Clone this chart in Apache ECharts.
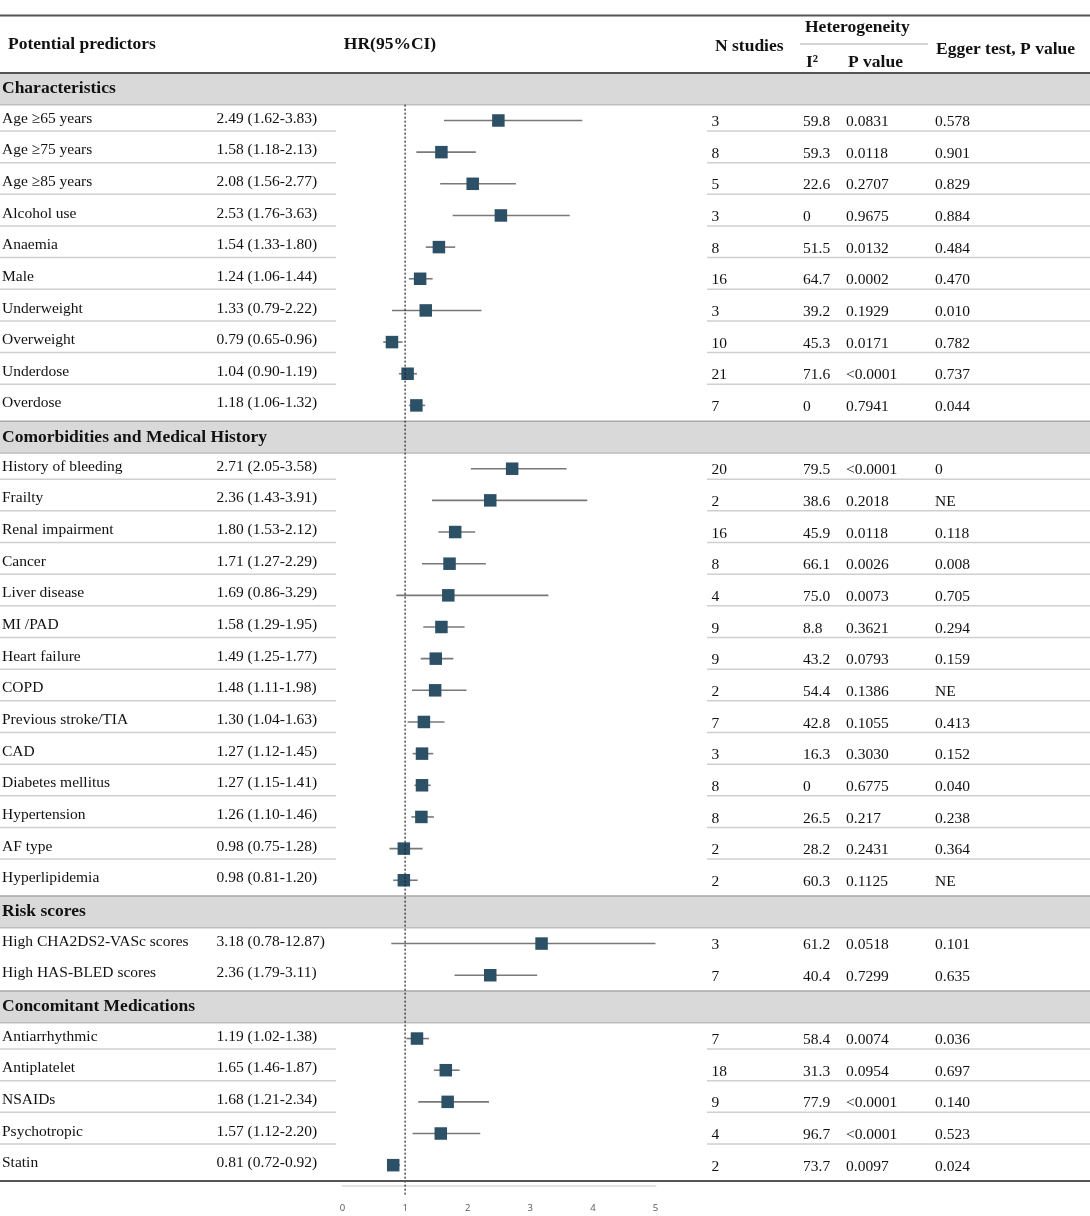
<!DOCTYPE html>
<html><head><meta charset="utf-8">
<script src="https://cdn.jsdelivr.net/npm/echarts@6/dist/echarts.min.js"></script>
<style>html,body{margin:0;padding:0;background:#fff}#c{width:1090px;height:1216px}</style>
</head><body><div id="c"></div>
<script>
// ---------------- DATA ----------------
const sections = ['Characteristics', 'Comorbidities and Medical History', 'Risk scores', 'Concomitant Medications'];
const predictors = [
  'Age \u226565 years', 'Age \u226575 years', 'Age \u226585 years', 'Alcohol use', 'Anaemia', 'Male',
  'Underweight', 'Overweight', 'Underdose', 'Overdose',
  'History of bleeding', 'Frailty', 'Renal impairment', 'Cancer', 'Liver disease', 'MI /PAD',
  'Heart failure', 'COPD', 'Previous stroke/TIA', 'CAD', 'Diabetes mellitus', 'Hypertension',
  'AF type', 'Hyperlipidemia',
  'High CHA2DS2-VASc scores', 'High HAS-BLED scores',
  'Antiarrhythmic', 'Antiplatelet', 'NSAIDs', 'Psychotropic', 'Statin'
];
const sectionIndex = [0,0,0,0,0,0,0,0,0,0, 1,1,1,1,1,1,1,1,1,1,1,1,1,1, 2,2, 3,3,3,3,3];
const hr     = [2.49,1.58,2.08,2.53,1.54,1.24,1.33,0.79,1.04,1.18, 2.71,2.36,1.80,1.71,1.69,1.58,1.49,1.48,1.30,1.27,1.27,1.26,0.98,0.98, 3.18,2.36, 1.19,1.65,1.68,1.57,0.81];
const ciLow  = [1.62,1.18,1.56,1.76,1.33,1.06,0.79,0.65,0.90,1.06, 2.05,1.43,1.53,1.27,0.86,1.29,1.25,1.11,1.04,1.12,1.15,1.10,0.75,0.81, 0.78,1.79, 1.02,1.46,1.21,1.12,0.72];
const ciHigh = [3.83,2.13,2.77,3.63,1.80,1.44,2.22,0.96,1.19,1.32, 3.58,3.91,2.12,2.29,3.29,1.95,1.77,1.98,1.63,1.45,1.41,1.46,1.28,1.20, 12.87,3.11, 1.38,1.87,2.34,2.20,0.92];
const nStudies = [3,8,5,3,8,16,3,10,21,7, 20,2,16,8,4,9,9,2,7,3,8,8,2,2, 3,7, 7,18,9,4,2];
const i2 = ['59.8','59.3','22.6','0','51.5','64.7','39.2','45.3','71.6','0',
  '79.5','38.6','45.9','66.1','75.0','8.8','43.2','54.4','42.8','16.3','0','26.5','28.2','60.3',
  '61.2','40.4', '58.4','31.3','77.9','96.7','73.7'];
const pHet = ['0.0831','0.0118','0.2707','0.9675','0.0132','0.0002','0.1929','0.0171','<0.0001','0.7941',
  '<0.0001','0.2018','0.0118','0.0026','0.0073','0.3621','0.0793','0.1386','0.1055','0.3030','0.6775','0.217','0.2431','0.1125',
  '0.0518','0.7299', '0.0074','0.0954','<0.0001','<0.0001','0.0097'];
const eggerP = ['0.578','0.901','0.829','0.884','0.484','0.470','0.010','0.782','0.737','0.044',
  '0','NE','0.118','0.008','0.705','0.294','0.159','NE','0.413','0.152','0.040','0.238','0.364','NE',
  '0.101','0.635', '0.036','0.697','0.140','0.523','0.024'];
const xTicks = [0, 1, 2, 3, 4, 5];
const refValue = 1;

// ---------------- LAYOUT / STYLE ----------------
const FONT = "'Liberation Serif','Times New Roman',serif";
const COL = { name: 2, hrText: 216.5, n: 711.5, i2: 803, p: 846, egger: 935 };
const SEP = { leftEnd: 336, rightStart: 707 };
const noRowLines = ['Risk scores'];
const W = 1090, TOP = 73, BOTTOM = 1181;

// build row list
const rows = [];
let prev = -1;
predictors.forEach((name, i) => {
  if (sectionIndex[i] !== prev) { rows.push({ type: 'section', label: sections[sectionIndex[i]] }); prev = sectionIndex[i]; }
  rows.push({ type: 'item', i: i });
});
const cats = rows.map((r, k) => String(k));
const fmt = v => v.toFixed(2);

function txt(x, y, s, opt) {
  opt = opt || {};
  return { type: 'text', x: x, y: y, z2: 10, style: {
    text: s, font: opt.font || ('15.5px ' + FONT), fill: opt.fill || '#111',
    align: opt.align || 'left', textAlign: opt.align || 'left',
    verticalAlign: 'middle', textVerticalAlign: 'middle' } };
}

const tableData = rows.map((r, k) => [0, k]);
const forestData = [];
rows.forEach((r, k) => { if (r.type === 'item') forestData.push([hr[r.i], k, ciLow[r.i], ciHigh[r.i]]); });

const chart = echarts.init(document.getElementById('c'), null, { renderer: 'canvas' });
chart.setOption({
  animation: false,
  backgroundColor: '#fff',
  grid: [
    { left: 342.5, top: TOP, width: 313, height: BOTTOM - TOP },
    { left: 0, top: TOP, width: W, height: BOTTOM - TOP }
  ],
  xAxis: [
    { gridIndex: 0, type: 'value', min: xTicks[0], max: xTicks[xTicks.length - 1], interval: 1, offset: 5,
      axisLine: { show: true, lineStyle: { color: '#e2e2e2', width: 2 } },
      axisTick: { show: false }, splitLine: { show: false },
      axisLabel: { color: '#555', fontSize: 9.5, margin: 17, fontFamily: "'Open Sans',sans-serif" } },
    { gridIndex: 1, type: 'value', min: 0, max: W, show: false }
  ],
  yAxis: [
    { gridIndex: 0, type: 'category', data: cats, inverse: true, show: false },
    { gridIndex: 1, type: 'category', data: cats, inverse: true, show: false }
  ],
  graphic: [
    { type: 'line', z: 100, shape: { x1: 0, y1: 15.5, x2: W, y2: 15.5 }, style: { stroke: '#555', lineWidth: 2 } },
    { type: 'line', z: 100, shape: { x1: 0, y1: TOP, x2: W, y2: TOP }, style: { stroke: '#555', lineWidth: 2 } },
    { type: 'line', z: 100, shape: { x1: 0, y1: BOTTOM, x2: W, y2: BOTTOM }, style: { stroke: '#555', lineWidth: 2 } },
    { type: 'line', z: 100, shape: { x1: 800, y1: 44, x2: 928, y2: 44 }, style: { stroke: '#aaa', lineWidth: 1.2 } },
    Object.assign(txt(8, 44, 'Potential predictors', { font: 'bold 17.5px ' + FONT }), { z: 100 }),
    Object.assign(txt(390, 44, 'HR(95%CI)', { font: 'bold 17.5px ' + FONT, align: 'center' }), { z: 100 }),
    Object.assign(txt(715, 46, 'N studies', { font: 'bold 17.5px ' + FONT }), { z: 100 }),
    Object.assign(txt(805, 27, 'Heterogeneity', { font: 'bold 17.5px ' + FONT }), { z: 100 }),
    Object.assign(txt(806, 62, 'I\u00b2', { font: 'bold 17.5px ' + FONT }), { z: 100 }),
    Object.assign(txt(848, 62, 'P value', { font: 'bold 17.5px ' + FONT }), { z: 100 }),
    Object.assign(txt(936, 49, 'Egger test, P value', { font: 'bold 17.5px ' + FONT }), { z: 100 })
  ],
  series: [
    { // table rows (text, bands, separators)
      type: 'custom', xAxisIndex: 1, yAxisIndex: 1, clip: false, silent: true,
      encode: { x: 0, y: 1 }, data: tableData,
      renderItem: function (params, api) {
        const k = api.value(1);
        const yc = api.coord([0, k])[1];
        const h = api.size([0, 1])[1];
        const row = rows[k];
        const ch = [];
        if (row.type === 'section') {
          ch.push({ type: 'rect', shape: { x: 0, y: yc - h / 2, width: W, height: h }, style: { fill: '#d9d9d9' } });
          ch.push({ type: 'line', shape: { x1: 0, y1: yc - h / 2, x2: W, y2: yc - h / 2 }, style: { stroke: '#a9a9a9', lineWidth: 1.5 } });
          ch.push({ type: 'line', shape: { x1: 0, y1: yc + h / 2, x2: W, y2: yc + h / 2 }, style: { stroke: '#bdbdbd', lineWidth: 1.5 } });
          ch.push(txt(COL.name, yc, row.label, { font: 'bold 17.5px ' + FONT }));
        } else {
          const i = row.i;
          const yl = yc - 2, yr = yc + 1.5;
          ch.push(txt(COL.name, yl, predictors[i]));
          ch.push(txt(COL.hrText, yl, fmt(hr[i]) + ' (' + fmt(ciLow[i]) + '-' + fmt(ciHigh[i]) + ')'));
          ch.push(txt(COL.n, yr, String(nStudies[i])));
          ch.push(txt(COL.i2, yr, i2[i]));
          ch.push(txt(COL.p, yr, pHet[i]));
          ch.push(txt(COL.egger, yr, eggerP[i]));
          const nx = rows[k + 1];
          if (nx && nx.type === 'item' && sectionIndex[nx.i] === sectionIndex[i] &&
              noRowLines.indexOf(sections[sectionIndex[i]]) < 0) {
            const ys = yc + 10.5;
            ch.push({ type: 'line', shape: { x1: 0, y1: ys, x2: SEP.leftEnd, y2: ys }, style: { stroke: '#cfcfcf', lineWidth: 1.5 } });
            ch.push({ type: 'line', shape: { x1: SEP.rightStart, y1: ys, x2: W, y2: ys }, style: { stroke: '#cfcfcf', lineWidth: 1.5 } });
          }
        }
        return { type: 'group', children: ch };
      }
    },
    { // forest: CI whiskers + squares
      type: 'custom', xAxisIndex: 0, yAxisIndex: 0, clip: false, silent: true,
      encode: { x: 0, y: 1 }, data: forestData,
      renderItem: function (params, api) {
        const k = api.value(1);
        const p = api.coord([api.value(0), k]);
        const xmin = api.coord([xTicks[0], k])[0];
        const xmax = api.coord([xTicks[xTicks.length - 1], k])[0];
        let a = api.coord([api.value(2), k])[0];
        let b = api.coord([api.value(3), k])[0];
        a = Math.max(xmin, Math.min(xmax, a));
        b = Math.max(xmin, Math.min(xmax, b));
        const s = 12.5;
        return { type: 'group', children: [
          { type: 'line', shape: { x1: a, y1: p[1], x2: b, y2: p[1] }, style: { stroke: '#787878', lineWidth: 1.6 } },
          { type: 'rect', shape: { x: p[0] - s / 2, y: p[1] - s / 2, width: s, height: s }, style: { fill: '#2c5066' } }
        ] };
      }
    },
    { // reference line at HR = 1
      type: 'custom', xAxisIndex: 0, yAxisIndex: 0, clip: false, silent: true,
      encode: { x: 0, y: 1 }, data: [[refValue, 0]],
      renderItem: function (params, api) {
        const h = api.size([0, 1])[1];
        const x = api.coord([api.value(0), 0])[0];
        const top = api.coord([api.value(0), 1])[1] - h / 2;
        const bot = api.coord([api.value(0), rows.length - 1])[1] + h / 2 + 14;
        return { type: 'line', shape: { x1: x, y1: top, x2: x, y2: bot },
          style: { stroke: '#222', lineWidth: 1.2, lineDash: [2, 2] } };
      }
    }
  ]
});
</script>
</body></html>
